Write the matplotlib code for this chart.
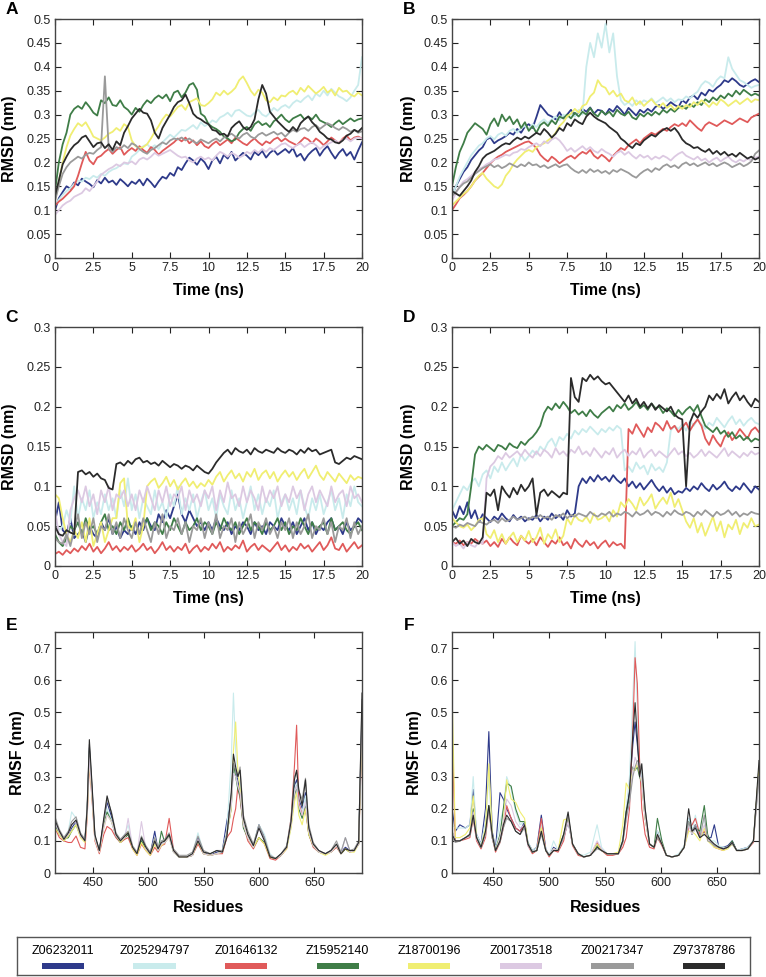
import numpy as np
import matplotlib
matplotlib.use("Agg")
import matplotlib.pyplot as plt
from matplotlib.patches import Rectangle

plt.rcParams['font.family'] = ['Liberation Sans', 'DejaVu Sans']

names = ['Z06232011', 'Z025294797', 'Z01646132', 'Z15952140',
         'Z18700196', 'Z00173518', 'Z00217347', 'Z97378786']
colors = ['#2e3a8a', '#c9ebec', '#e05a5a', '#3f7d47',
          '#f0ee72', '#dcc9e2', '#9a9a9a', '#2b2b2b']

# time axis of the RMSD traces, one sample every 0.25 ns
time_ns = np.linspace(0, 20, 81)

# ---- panel A, RMSD in 1e-3 nm ----
a_blue = [100,125,138,150,145,158,152,166,160,155,148,163,156,168,158,162,153,165,158,150,
          160,155,164,152,166,158,148,160,170,166,178,172,190,184,198,210,204,195,208,200,
          186,204,212,198,216,208,222,204,212,220,214,206,222,215,224,210,220,226,216,222,
          228,220,230,212,218,204,216,224,230,214,226,234,220,208,220,228,214,222,206,225,
          242]
a_cyan = [110,122,132,140,146,155,162,160,168,165,172,168,176,172,180,185,188,194,198,196,
          212,218,226,234,238,230,236,228,242,250,258,252,260,268,266,272,278,270,284,276,
          280,288,284,294,298,304,296,308,310,304,298,296,304,310,300,296,304,314,308,316,
          320,314,324,330,326,334,340,330,344,338,350,340,354,346,338,334,328,336,350,362,
          420]
a_red = [110,118,124,132,140,150,172,198,222,204,196,210,214,222,228,218,226,232,216,224,
         230,224,234,226,220,232,226,216,224,230,236,242,250,244,252,240,246,236,244,234,
         230,238,244,236,242,248,240,252,246,240,236,244,250,242,236,244,240,248,252,244,
         250,244,240,236,244,252,248,240,250,244,236,244,252,246,240,250,256,246,252,254,
         250]
a_green = [140,200,238,262,300,312,318,312,326,316,304,298,330,324,336,320,318,330,316,310,
           300,314,306,320,330,324,334,340,334,342,328,346,350,336,346,362,366,352,302,296,
           280,274,270,264,254,250,244,248,262,270,274,266,280,286,278,282,274,286,292,300,
           290,284,292,296,300,290,296,290,300,288,284,280,274,282,288,280,286,292,286,290,
           292]
a_yellow = [120,160,200,232,256,270,282,276,284,270,254,250,246,252,260,264,272,266,280,274,
            246,234,230,232,238,250,264,276,290,300,296,306,316,320,310,326,330,334,320,318,
            324,332,346,340,350,342,348,356,372,380,366,350,340,352,346,330,326,336,330,340,
            338,346,350,342,356,348,360,352,344,350,358,346,352,340,356,348,350,342,338,346,
            340]
a_pink = [90,100,110,116,120,128,132,136,146,140,150,160,174,180,186,190,196,192,200,198,
          202,196,206,210,206,212,220,214,218,222,226,220,214,210,212,204,200,208,212,206,
          210,204,214,222,218,212,220,216,210,214,222,218,226,220,228,222,230,226,232,238,
          240,234,230,236,240,232,238,242,236,228,234,238,242,246,240,248,250,244,250,252,
          250]
a_gray = [120,150,176,190,200,206,212,208,216,220,218,226,232,380,228,222,232,228,236,230,
          240,236,228,222,218,226,230,236,242,238,246,250,248,252,246,250,244,240,248,244,
          240,246,250,244,252,256,260,254,250,258,262,254,250,258,262,256,260,264,258,262,
          254,262,268,264,270,272,266,274,278,270,276,282,278,272,268,274,270,264,268,262,
          265]
a_black = [130,162,196,212,226,236,242,252,256,244,232,240,242,230,238,226,244,236,262,276,
           292,302,312,304,302,288,262,250,272,286,300,316,326,330,342,324,302,294,290,284,
           280,268,266,258,260,254,272,280,286,274,268,274,290,332,362,344,306,296,286,278,
           270,264,274,266,282,290,296,284,276,264,258,250,248,242,240,246,256,260,268,264,
           272]

# ---- panel B ----
b_blue = [130,150,165,180,190,205,215,225,232,248,252,240,246,250,255,262,258,270,262,275,
          280,272,295,320,310,300,296,290,305,292,300,310,298,305,312,306,315,302,310,308,
          300,312,306,318,310,300,314,306,298,310,304,312,306,316,320,312,318,326,320,316,
          330,324,336,340,332,346,340,352,348,356,362,372,368,376,370,362,358,364,370,374,
          368]
b_cyan = [130,150,170,185,200,215,225,235,240,250,255,248,258,262,256,266,270,262,272,276,
          270,280,274,284,290,282,290,296,288,300,294,302,296,310,300,400,450,420,470,440,
          490,430,470,380,330,320,326,318,330,322,330,326,334,324,330,336,328,334,326,332,
          330,338,334,342,348,362,370,366,358,372,380,376,420,396,384,372,368,362,356,360,
          362]
b_red = [100,112,125,132,140,150,162,170,178,188,198,206,212,216,222,226,230,234,238,242,
         244,238,230,216,208,202,212,206,198,204,210,214,208,216,222,218,226,214,208,216,
         210,202,214,222,230,226,236,242,248,240,250,256,262,258,264,270,266,274,280,276,
         282,276,288,280,272,266,278,284,280,276,282,288,284,280,286,292,288,284,294,298,
         302]
b_green = [150,190,222,240,262,272,282,276,270,258,280,292,276,300,286,296,280,290,272,284,
           266,276,262,278,284,276,288,280,296,292,300,292,304,296,306,300,314,302,296,308,
           300,306,296,310,302,298,306,294,290,302,296,304,298,306,300,310,304,312,306,314,
           318,312,322,316,326,320,332,326,336,330,340,334,344,338,350,342,352,346,340,344,
           340]
b_yellow = [110,118,126,134,140,150,162,172,178,166,158,150,146,154,172,182,196,206,214,222,
            226,222,232,236,240,246,252,262,276,284,296,302,312,304,318,322,338,346,372,360,
            356,342,350,338,344,330,326,336,320,328,318,326,332,322,316,324,314,320,310,318,
            312,320,316,326,320,330,324,316,326,320,332,326,318,324,330,322,328,334,326,332,
            330]
b_pink = [120,135,150,160,165,172,180,186,190,196,200,206,208,212,216,214,220,222,228,226,
          232,236,240,234,244,240,248,252,246,236,224,230,222,228,234,226,232,224,220,228,
          222,218,212,220,224,216,222,214,208,216,210,214,206,212,208,214,210,204,212,218,
          222,214,210,206,212,204,208,200,206,210,202,208,212,204,200,206,202,208,204,210,
          212]
b_gray = [130,138,148,156,160,168,176,182,188,192,196,190,194,188,192,198,194,190,196,192,
          200,194,196,190,194,188,192,196,190,194,196,188,182,178,184,178,186,180,184,178,
          182,176,184,180,186,182,178,172,168,176,182,186,180,188,184,192,196,190,194,188,
          196,200,194,198,192,196,200,194,198,192,196,200,196,190,194,198,192,196,202,218,
          225]
b_black = [140,135,130,140,150,162,180,192,208,216,220,224,230,236,240,238,246,252,248,254,
           250,256,262,258,270,262,252,260,272,266,282,276,290,284,280,296,304,296,290,286,
           282,274,268,262,250,244,236,230,240,236,246,252,258,254,262,268,272,266,272,262,
           248,240,236,230,232,226,222,228,218,224,216,222,214,218,212,220,214,208,212,206,
           210]

# ---- panel C ----
c_blue = [55,80,45,40,60,35,40,45,30,50,40,35,55,45,60,40,50,35,45,40,
          50,40,55,45,60,50,45,65,55,70,60,75,90,65,55,70,60,50,55,45,
          55,45,60,50,45,55,40,50,45,55,50,40,55,45,50,40,55,50,45,60,
          50,45,55,40,50,60,45,55,40,50,45,55,60,45,50,40,55,45,50,60,
          55]
c_cyan = [60,45,50,70,55,100,60,85,70,95,60,80,65,90,70,85,60,95,75,110,
          70,90,60,85,75,65,95,70,80,60,90,75,100,65,85,70,90,60,80,95,
          70,85,60,90,75,65,95,70,85,60,80,100,70,90,65,85,75,95,60,80,
          90,70,85,65,95,75,60,85,70,90,65,80,95,70,85,60,90,75,100,80,
          75]
c_red = [15,18,14,20,16,22,18,25,20,28,18,24,16,22,30,20,25,18,24,20,
         26,18,22,28,20,24,16,22,30,20,25,18,24,20,28,16,22,26,18,24,
         20,28,22,30,18,24,20,26,22,32,18,24,28,20,26,22,18,24,30,20,
         26,18,24,20,28,22,26,18,24,30,20,26,36,22,20,28,18,24,30,22,
         26]
c_green = [40,30,25,35,50,45,55,40,60,45,50,40,55,65,45,50,40,55,45,60,
           45,55,40,50,60,45,55,50,40,55,45,60,50,40,55,45,50,60,45,55,
           50,40,55,45,60,50,45,55,40,50,60,45,55,50,40,55,45,50,60,45,
           55,40,50,45,60,50,40,55,45,50,55,40,60,45,50,55,45,40,50,55,
           45]
c_yellow = [90,85,60,40,30,45,35,55,30,60,25,40,55,30,45,60,60,104,110,50,
            45,60,30,50,100,106,110,98,104,112,100,108,96,104,110,100,106,98,104,100,
            108,102,112,118,106,114,120,110,116,106,118,112,122,108,116,120,110,118,106,114,
            120,112,118,108,116,122,110,118,126,114,108,118,112,106,116,110,104,114,108,112,
            110]
c_pink = [70,40,30,25,70,85,95,80,100,75,90,65,95,80,100,70,90,85,95,75,
          90,70,95,80,100,85,70,95,80,100,75,90,85,100,70,95,80,90,75,95,
          85,100,70,95,80,105,85,90,75,100,80,95,85,70,100,80,95,85,100,75,
          90,80,100,85,95,70,90,100,80,95,85,75,100,80,90,95,75,100,85,90,
          80]
c_gray = [35,30,28,40,25,45,65,35,55,40,60,30,50,45,65,40,55,35,60,45,
          35,55,40,60,45,30,55,40,65,35,50,45,60,40,55,30,50,45,60,35,
          55,40,65,35,50,45,60,30,55,40,50,65,35,55,45,60,40,50,35,55,
          45,60,35,55,40,50,65,35,50,45,60,40,55,30,50,45,60,35,55,40,
          50]
c_black = [50,40,38,45,42,40,118,120,115,118,112,116,110,108,98,96,128,130,126,132,
           128,134,136,130,132,128,130,126,132,128,124,128,126,122,126,124,120,126,122,118,
           116,122,130,136,142,146,140,148,144,142,146,140,148,144,142,146,144,142,148,144,
           142,146,144,140,146,142,148,144,146,140,142,144,146,130,128,132,136,134,138,136,
           134]

# ---- panel D ----
d_blue = [70,60,75,65,80,60,70,55,65,60,55,62,58,66,60,56,64,58,62,56,
          60,58,64,56,62,58,66,60,64,58,70,62,66,100,110,104,112,106,114,108,
          112,106,114,108,104,110,100,106,98,104,96,102,108,100,94,100,92,98,90,94,
          92,98,94,100,96,104,98,94,102,96,100,106,98,94,100,96,104,98,92,100,
          96]
d_cyan = [70,80,90,100,95,105,110,100,115,120,110,125,118,130,120,128,135,125,140,132,
          138,145,140,150,145,155,160,150,162,158,166,160,170,165,172,168,175,170,165,172,
          168,174,170,176,172,120,125,118,130,122,126,115,128,120,124,118,130,170,176,172,
          178,170,182,176,184,178,172,180,176,186,180,174,182,188,178,184,176,182,186,180,
          178]
d_red = [30,28,32,26,30,28,34,30,28,32,25,30,24,34,28,36,30,26,38,32,
         28,34,26,36,30,24,32,28,36,26,30,22,34,28,24,32,26,30,22,28,
         32,24,30,26,28,22,172,166,178,170,162,174,168,180,176,170,182,172,176,168,
         174,180,170,178,184,176,160,152,164,156,150,162,168,158,164,172,166,160,170,174,
         168]
d_green = [50,55,60,58,65,100,140,150,146,152,148,144,152,150,146,154,150,148,156,152,
           158,162,168,176,192,200,196,204,198,206,200,192,196,190,194,188,196,190,186,192,
           196,200,194,202,198,204,196,200,206,198,202,196,204,198,200,192,198,194,188,196,
           190,196,200,194,202,188,176,172,168,174,166,170,162,168,160,164,158,162,156,160,
           158]
d_yellow = [60,55,50,48,52,45,50,58,60,40,35,45,30,40,28,36,42,30,38,32,
            44,30,36,48,28,40,34,46,30,38,60,52,64,58,56,62,54,66,58,60,
            64,56,70,62,80,74,84,78,70,86,76,82,90,72,80,86,78,92,74,84,
            70,56,48,60,42,54,38,50,62,44,56,36,52,46,58,40,54,48,60,50,
            52]
d_pink = [30,25,28,22,30,26,24,30,28,110,125,130,138,134,142,136,140,144,138,146,
          140,136,144,138,146,142,136,148,140,144,138,146,142,150,140,144,138,148,142,136,
          144,140,148,136,142,146,138,144,140,148,136,142,146,138,144,140,136,142,148,140,
          144,138,142,136,140,146,138,144,140,136,142,148,138,144,140,136,142,138,144,140,
          142]
d_gray = [50,48,52,50,54,52,50,56,54,52,56,58,54,60,56,58,62,58,60,62,
          58,62,60,64,60,62,58,64,62,66,60,64,62,66,64,62,68,64,62,66,
          64,68,62,66,64,68,66,62,68,64,66,70,64,68,66,62,68,64,70,66,
          64,68,66,62,68,64,70,66,62,68,64,66,70,64,68,62,66,64,68,66,
          65]
d_black = [30,35,28,32,25,34,30,28,36,92,88,96,70,100,92,86,98,90,102,94,
           100,110,64,92,96,88,94,90,86,92,90,236,212,206,236,232,240,234,238,232,
           228,230,224,218,212,206,214,204,210,200,206,198,204,196,202,198,194,200,190,186,
           184,100,180,192,186,194,200,214,208,216,210,222,204,212,218,208,214,206,200,210,
           206]

# ---- panel E, RMSF in 1e-3 nm ----
res_e = [416,420,424,428,431,435,439,443,445,447,449,452,
         456,460,463,467,471,475,479,482,486,490,494,498,
         502,506,509,512,515,519,523,528,535,540,545,550,
         556,562,567,571,575,577,579,581,583,586,590,595,
         600,605,610,615,620,625,629,632,634,636,639,642,
         645,649,654,660,665,670,674,678,682,686,690,693]
e_blue = [150,125,100,120,140,160,115,100,190,390,280,110,
          70,160,220,175,120,100,110,120,80,60,100,75,
          60,130,70,90,95,115,65,50,50,55,110,65,
          55,65,70,160,230,330,320,290,250,150,110,85,
          150,110,50,45,55,80,150,270,290,230,200,250,
          130,85,65,60,70,85,65,80,70,70,95,500]
e_cyan = [160,130,110,130,190,170,120,100,190,380,270,110,
          70,150,200,165,115,100,120,150,80,60,110,75,
          60,110,70,90,100,115,65,50,50,60,125,65,
          60,70,70,130,350,560,380,300,280,160,120,90,
          150,120,60,45,60,80,140,260,280,220,190,240,
          140,85,65,60,70,90,65,110,70,70,90,500]
e_red = [140,110,100,95,95,115,80,75,170,340,250,100,
         60,120,145,135,110,95,105,110,75,55,90,70,
         55,80,65,85,90,170,70,50,50,55,90,60,
         55,60,60,110,130,170,200,270,230,150,100,75,
         110,90,45,40,55,75,170,330,460,220,180,200,
         120,80,65,60,65,80,60,75,65,70,90,430]
e_green = [150,120,105,110,130,150,115,100,190,380,270,110,
           70,150,190,160,115,95,110,120,80,60,100,75,
           60,95,70,130,95,115,65,50,50,55,100,60,
           55,60,65,120,200,340,300,260,240,140,110,80,
           110,95,50,45,55,80,150,240,270,200,170,210,
           120,85,65,60,65,85,60,75,65,70,90,480]
e_yellow = [140,120,100,115,130,150,110,95,180,350,260,105,
            65,140,180,160,120,95,110,130,75,55,95,70,
            55,90,70,85,95,110,65,50,50,55,100,60,
            55,60,65,120,200,380,470,320,260,150,110,80,
            110,90,50,45,55,75,140,220,250,180,150,200,
            120,85,65,55,65,85,60,75,65,65,90,460]
e_pink = [155,125,105,120,150,160,115,100,180,360,260,105,
          65,140,180,160,115,100,110,170,80,60,160,75,
          60,100,70,90,95,110,65,50,50,55,105,60,
          55,60,65,120,210,310,300,270,250,150,110,80,
          140,100,55,45,55,80,150,250,270,210,180,220,
          130,85,65,60,65,85,60,110,65,70,90,480]
e_gray = [175,135,110,130,160,175,125,105,210,400,290,115,
          70,160,230,190,125,105,120,130,85,65,115,85,
          65,110,80,100,105,125,75,55,55,65,115,70,
          60,70,70,120,240,340,320,300,330,180,130,90,
          150,110,55,45,60,85,170,300,315,255,230,295,
          150,95,70,60,70,100,65,110,70,75,100,540]
e_black = [165,130,105,125,150,165,120,100,200,415,300,120,
           70,170,240,185,120,100,115,125,80,60,110,80,
           60,100,75,95,100,120,70,50,50,60,100,65,
           60,70,65,110,250,370,330,300,320,170,120,85,
           140,100,50,45,60,80,160,290,320,260,210,290,
           140,90,70,60,70,90,60,75,70,70,95,560]

# ---- panel F ----
res_f = [413,416,420,425,429,432,435,439,443,446,449,452,
         456,459,462,466,470,474,478,481,485,489,493,497,
         500,504,508,513,517,521,526,531,537,543,547,552,
         557,562,566,569,572,575,577,579,581,583,586,590,
         594,597,601,605,610,616,621,625,628,631,635,639,
         642,645,648,652,656,660,664,668,673,678,683,688]
f_blue = [200,130,150,140,150,260,120,90,200,440,130,75,
          250,230,200,170,140,130,160,95,70,80,180,75,
          55,80,70,110,160,90,60,50,55,90,70,60,
          60,60,100,170,260,400,470,400,330,300,180,90,
          80,130,90,55,50,55,80,170,120,150,110,130,
          110,110,150,80,80,85,100,70,75,80,100,330]
f_cyan = [150,140,140,140,150,300,120,90,160,300,120,75,
          160,200,300,260,190,150,160,95,70,80,150,75,
          55,100,70,110,170,90,60,55,65,150,80,60,
          60,60,110,200,300,550,720,500,350,300,170,90,
          80,130,90,55,50,60,85,170,130,180,120,170,
          110,100,100,85,80,80,95,70,75,80,100,300]
f_red = [440,100,100,105,110,170,100,75,110,200,110,65,
         95,140,210,170,140,130,150,85,60,70,170,70,
         50,70,65,100,170,85,55,50,55,95,70,55,
         55,60,80,110,200,450,670,590,350,200,120,80,
         75,110,85,55,50,55,80,140,150,170,120,130,
         110,95,80,75,70,80,95,70,70,75,95,320]
f_green = [130,100,100,110,120,200,110,80,130,210,110,70,
           120,200,280,270,200,160,160,90,65,70,130,70,
           55,70,70,120,170,90,60,50,55,85,70,60,
           60,60,100,190,230,330,320,330,300,280,170,90,
           80,170,100,55,50,55,80,160,120,140,130,210,
           120,95,85,80,75,80,100,70,70,75,100,320]
f_yellow = [570,110,110,120,140,240,110,80,140,340,120,70,
            110,160,290,230,220,190,170,90,65,70,140,70,
            55,75,70,165,170,90,60,50,55,90,70,60,
            60,65,150,280,260,320,320,340,310,280,170,90,
            80,120,90,55,50,55,80,130,130,120,100,140,
            100,90,80,75,70,75,90,70,70,75,100,330]
f_pink = [130,100,100,110,120,190,105,80,120,200,110,70,
          110,160,230,210,160,140,150,85,65,70,130,70,
          55,75,70,110,160,90,60,50,55,100,75,60,
          60,60,95,160,220,320,360,340,320,280,170,90,
          80,120,90,55,50,55,80,150,120,140,110,150,
          110,95,85,80,75,80,95,70,70,75,100,300]
f_gray = [110,95,100,110,115,170,110,80,120,200,115,70,
          95,140,170,160,130,120,140,90,65,70,120,70,
          55,70,70,110,180,90,60,50,55,75,70,60,
          60,60,95,170,220,300,330,350,340,320,200,90,
          80,110,90,55,50,55,80,160,130,150,110,180,
          100,95,85,80,75,80,90,70,70,75,100,300]
f_black = [120,100,100,110,120,180,110,80,130,210,120,70,
           100,150,180,160,130,120,150,90,65,70,130,70,
           55,70,70,120,190,90,60,50,55,80,70,60,
           60,60,100,190,250,430,530,420,300,340,200,90,
           80,120,90,55,50,55,80,200,130,140,110,120,
           110,100,90,80,75,80,95,70,70,75,100,350]


def nm(v):
    # stored in 1e-3 nm
    return np.asarray(v, dtype=float) / 1000.0


def style_axes(ax, xlim, ylim, xticks, yticks, xlabel, ylabel, ylab_x, xlab_y):
    ax.set_xlim(*xlim)
    ax.set_ylim(*ylim)
    ax.set_xticks(xticks)
    ax.set_yticks(yticks)
    ax.set_xticklabels(['%g' % v for v in xticks])
    ax.set_yticklabels(['%g' % round(v, 2) for v in yticks])
    ax.tick_params(direction='in', top=True, right=True, length=4, width=0.8,
                   labelsize=9, colors='#222222', pad=3)
    for sp in ax.spines.values():
        sp.set_color('#444444')
        sp.set_linewidth(1.0)
    ax.set_xlabel(xlabel, fontsize=11.5, fontweight='bold')
    ax.set_ylabel(ylabel, fontsize=11.5, fontweight='bold')
    ax.xaxis.set_label_coords(0.5, xlab_y)
    ax.yaxis.set_label_coords(ylab_x, 0.5)


W, H = 766, 977
fig = plt.figure(figsize=(W / 100, H / 100), dpi=100)


def px_axes(x0, y0, x1, y1):
    return fig.add_axes([x0 / W, 1 - y1 / H, (x1 - x0) / W, (y1 - y0) / H])


rmsd_panels = [
    ('A', (55, 19, 362, 258), [a_blue, a_cyan, a_red, a_green, a_yellow, a_pink, a_gray, a_black], 0.5, -0.124),
    ('B', (452, 19, 759, 258), [b_blue, b_cyan, b_red, b_green, b_yellow, b_pink, b_gray, b_black], 0.5, -0.117),
    ('C', (55, 327, 362, 566), [c_blue, c_cyan, c_red, c_green, c_yellow, c_pink, c_gray, c_black], 0.3, -0.124),
    ('D', (452, 327, 759, 566), [d_blue, d_cyan, d_red, d_green, d_yellow, d_pink, d_gray, d_black], 0.3, -0.117),
]

for letter, box, series, ytop, ylx in rmsd_panels:
    ax = px_axes(*box)
    for vals, col in zip(series, colors):
        ax.plot(time_ns, nm(vals), color=col, lw=1.3)
    style_axes(ax, (0, 20), (0, ytop), np.arange(0, 20.1, 2.5),
               np.arange(0, ytop + 0.001, 0.05), 'Time (ns)', 'RMSD (nm)', ylx, -0.105)
    fig.text((box[0] - 43) / W, 1 - (box[1] - 10) / H, letter,
             fontsize=12.5, fontweight='bold', ha='center', va='center')

rmsf_panels = [
    ('E', (55, 632, 362, 873), res_e, [e_blue, e_cyan, e_red, e_green, e_yellow, e_pink, e_gray, e_black], (416, 693), -0.098),
    ('F', (452, 632, 759, 873), res_f, [f_blue, f_cyan, f_red, f_green, f_yellow, f_pink, f_gray, f_black], (413, 688), -0.098),
]

for letter, box, res, series, xlim, ylx in rmsf_panels:
    ax = px_axes(*box)
    for vals, col in zip(series, colors):
        ax.plot(res, nm(vals), color=col, lw=0.8)
    style_axes(ax, xlim, (0, 0.75), [450, 500, 550, 600, 650],
               np.arange(0, 0.71, 0.1), 'Residues', 'RMSF (nm)', ylx, -0.11)
    fig.text((box[0] - 43) / W, 1 - (box[1] - 6) / H, letter,
             fontsize=12.5, fontweight='bold', ha='center', va='center')

# legend strip at the bottom
lax = px_axes(17, 937, 750, 975)
lax.set_xlim(0, 8)
lax.set_ylim(0, 1)
lax.set_xticks([])
lax.set_yticks([])
for sp in lax.spines.values():
    sp.set_color('#555555')
    sp.set_linewidth(1.0)
for i, (name, col) in enumerate(zip(names, colors)):
    lax.text(i + 0.5, 0.63, name, ha='center', va='center', fontsize=9)
    lax.add_patch(Rectangle((i + 0.27, 0.15), 0.46, 0.17, color=col, lw=0))

fig.savefig('out.png', dpi=100)
